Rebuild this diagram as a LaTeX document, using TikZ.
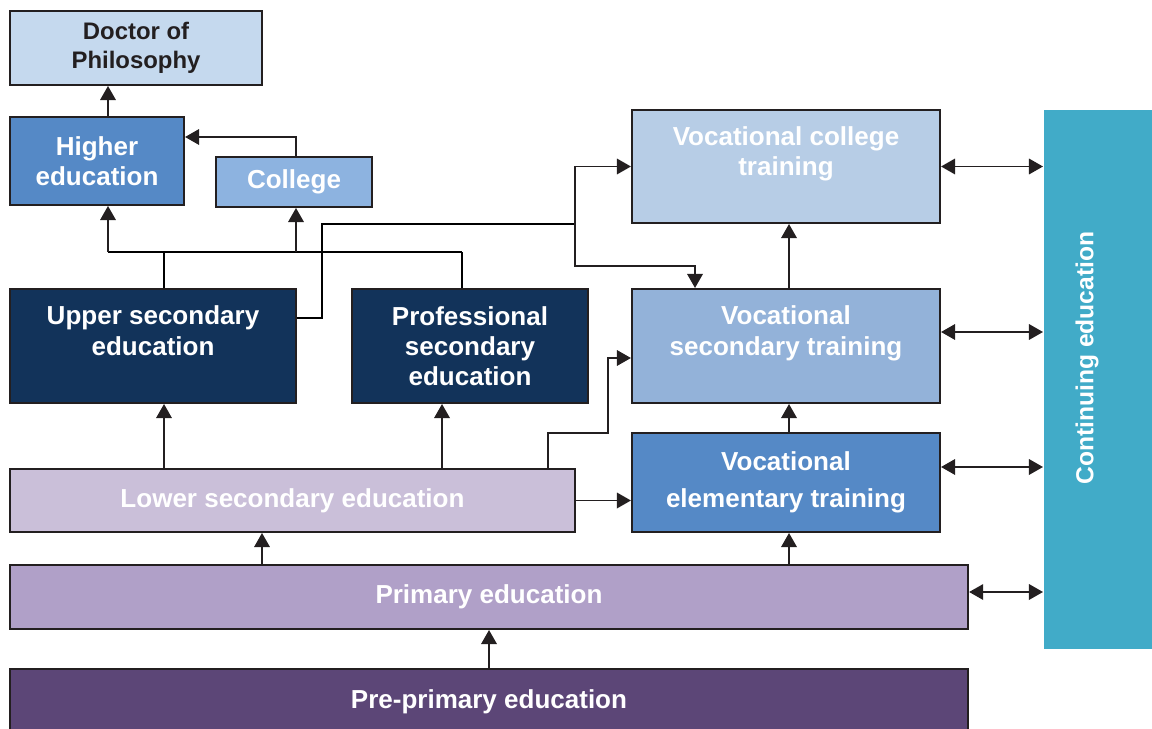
\documentclass[tikz,border=0pt]{standalone}
\usepackage{fontspec}
\setmainfont{Liberation Sans}
\usepackage{tikz}
\usetikzlibrary{arrows.meta,positioning}

\definecolor{linec}{HTML}{231F20}
\definecolor{phdc}{HTML}{C5D9EE}
\definecolor{hec}{HTML}{5589C6}
\definecolor{colc}{HTML}{8DB3E0}
\definecolor{navy}{HTML}{12335A}
\definecolor{vcc}{HTML}{B7CDE6}
\definecolor{vsc}{HTML}{93B2D9}
\definecolor{lsc}{HTML}{CABFD9}
\definecolor{pc}{HTML}{B0A0C8}
\definecolor{ppc}{HTML}{5C4677}
\definecolor{cec}{HTML}{41ABC8}

\begin{document}
\begin{tikzpicture}[x=0.025cm, y=-0.025cm, line width=1.4pt,
  box/.style={draw=linec, line width=1.4pt, align=center, text=white,
    font=\bfseries\fontsize{18.5}{21.5}\selectfont},
  arr/.style={-{Triangle[length=10pt,width=11pt]}, draw=linec},
  darr/.style={{Triangle[length=10pt,width=11pt]}-{Triangle[length=10pt,width=11pt]}, draw=linec}]
\useasboundingbox (0,0) rectangle (1152,729);

% boxes
\node[box, fill=phdc, text=linec, font=\bfseries\fontsize{17}{20.5}\selectfont, minimum width=6.3cm, minimum height=1.85cm] (phd) at (136,48) {Doctor of\\Philosophy};
\node[box, fill=hec, minimum width=4.35cm, minimum height=2.2cm] (he) at (97,161) {Higher\\education};
\node[box, fill=colc, minimum width=3.9cm, minimum height=1.25cm] (col) at (294,182) {College};
\node[box, fill=navy, minimum width=7.15cm, minimum height=2.85cm, text depth=22pt] (usec) at (153,346) {Upper secondary\\education};
\node[box, fill=navy, minimum width=5.9cm, minimum height=2.85cm] (psec) at (470,346) {Professional\\secondary\\education};
\node[box, fill=vcc, minimum width=7.7cm, minimum height=2.825cm, text depth=22pt] (vcol) at (786,166.5) {Vocational college\\training};
\node[box, fill=vsc, minimum width=7.7cm, minimum height=2.85cm, text depth=22pt] (vsec) at (786,346) {Vocational\\secondary training};
\node[box, fill=hec, minimum width=7.7cm, minimum height=2.475cm] (velem) at (786,482.5) {Vocational\\[5pt]elementary training};
\node[box, fill=lsc, minimum width=14.125cm, minimum height=1.575cm] (lsec) at (292.5,500.5) {Lower secondary education};
\node[box, fill=pc, minimum width=23.95cm, minimum height=1.6cm] (prim) at (489,597) {Primary education};
\node[box, fill=ppc, minimum width=23.95cm, minimum height=1.65cm] (pre) at (489,702) {Pre-primary education};

\fill[cec] (1044,110) rectangle (1160,649);
\node[rotate=90, text=white, font=\bfseries\fontsize{17.5}{21}\selectfont,
  minimum height=2.15cm] (cont) at (1087,358) {Continuing education};

% lanes
\coordinate (f0) at (108,252);
\coordinate (f1) at (164,252);
\coordinate (f2) at (296,252);
\coordinate (f3) at (462,252);
\coordinate (c0) at (296,137);
\coordinate (u1) at (322,318);
\coordinate (u2) at (322,224);
\coordinate (u3) at (575,224);
\coordinate (u4) at (575,266);
\coordinate (u5) at (695,266);
\coordinate (l2) at (442,0);
\coordinate (l3) at (548,433);
\coordinate (l4) at (608,358);
\coordinate (p1) at (262,0);
\coordinate (v1) at (789,0);
\coordinate (d2) at (0,332);
\coordinate (d3) at (0,467);
\coordinate (d4) at (0,592);

% upper part
\draw[arr] (he.north -| f0) -- (phd.south -| f0);
\draw[arr] (col.north -| c0) -- (c0) -- (he.east |- c0);
\draw (usec.north -| f1) -- (f1);
\draw (psec.north -| f3) -- (f3);
\draw (f0) -- (f3);
\draw[arr] (f0) -- (he.south -| f0);
\draw[arr] (f2) -- (col.south -| f2);

\draw (usec.east |- u1) -- (u1) -- (u2) -- (u3);
\draw[arr] (u3) |- (vcol.west);
\draw[arr] (u3) -- (u4) -| (vsec.north -| u5);

% lower part
\draw[arr] (lsec.north -| f1) -- (usec.south -| f1);
\draw[arr] (lsec.north -| l2) -- (psec.south -| l2);
\draw[arr] (lsec.north -| l3) -- (l3) -| (l4) -- (vsec.west |- l4);
\draw[arr] (lsec.east) -- (velem.west |- lsec.east);
\draw[arr] (prim.north -| p1) -- (lsec.south -| p1);
\draw[arr] (prim.north -| v1) -- (velem.south -| v1);
\draw[arr] (velem.north -| v1) -- (vsec.south -| v1);
\draw[arr] (vsec.north -| v1) -- (vcol.south -| v1);
\draw[arr] (pre.north) -- (prim.south);

% continuing education
\draw[darr] (vcol.east) -- (vcol.east -| cont.north);
\draw[darr] (vsec.east |- d2) -- (d2 -| cont.north);
\draw[darr] (velem.east |- d3) -- (d3 -| cont.north);
\draw[darr] (prim.east |- d4) -- (d4 -| cont.north);
\end{tikzpicture}
\end{document}
